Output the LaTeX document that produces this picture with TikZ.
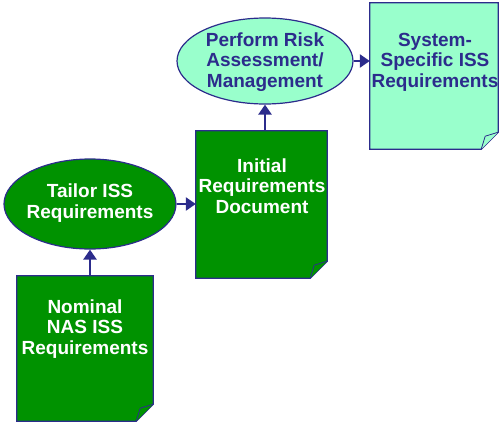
\documentclass[tikz,border=0pt]{standalone}
\usepackage{fontspec}
\setmainfont{Liberation Sans}
\usetikzlibrary{arrows.meta,shapes.geometric}
\definecolor{dgreen}{RGB}{0,146,0}
\definecolor{lgreen}{RGB}{153,255,204}
\definecolor{navy}{RGB}{44,44,140}
\tikzset{
  lbl/.style={font=\bfseries\fontsize{19}{20.5}\selectfont, align=center, inner sep=0pt},
  ell/.style={ellipse, draw=navy, line width=1.2pt, inner sep=0pt},
  docframe/.style={rectangle, draw=none, inner sep=0pt},
  flow/.style={draw=navy, line width=2.6pt, -{Triangle[length=10pt,width=13pt]}},
}
\newcommand{\docpage}[2]{%
  \filldraw[fill=#2, draw=navy, line width=1.2pt]
    (#1.north west) -- (#1.north east) -- ([yshift=17pt]#1.south east)
    -- ([xshift=-17pt]#1.south east) -- (#1.south west) -- cycle;
  \filldraw[fill=#2, draw=navy, line width=0.8pt]
    ([yshift=17pt]#1.south east) -- ([xshift=-13pt,yshift=13pt]#1.south east)
    -- ([xshift=-17pt]#1.south east);
}
\begin{document}
\begin{tikzpicture}[x=1pt,y=-1pt]
\useasboundingbox (0,0) rectangle (500,424);
% documents
\node[docframe, minimum width=136pt, minimum height=145pt] (nom) at (85,348.5) {};
\node[docframe, minimum width=131pt, minimum height=147pt] (init) at (261.5,204.5) {};
\node[docframe, minimum width=128pt, minimum height=146pt] (sys) at (434,76) {};
\docpage{nom}{dgreen}
\docpage{init}{dgreen}
\docpage{sys}{lgreen}
\node[lbl, text=white] (nomtext) at (85,329) {Nominal\\NAS ISS\\Requirements};
\node[lbl, text=white] (inittext) at (262,186) {Initial\\Requirements\\Document};
\node[lbl, text=navy] (systext) at (435,62) {System-\\Specific ISS\\Requirements};
% ellipses
\node[ell, fill=dgreen, minimum width=172pt, minimum height=90pt] (tailor) at (90,204) {};
\node[lbl, text=white] (tailortext) at (90,203) {Tailor ISS\\Requirements};
\node[ell, fill=lgreen, minimum width=176pt, minimum height=86pt] (perform) at (265,61) {};
\node[lbl, text=navy] (performtext) at (265,62) {Perform Risk\\Assessment/\\Management};
% connectors
\draw[flow] (tailor.south |- nom.north) -- (tailor.south);
\draw[flow] (tailor.east) -- (tailor.east -| init.west);
\draw[flow] (perform.south |- init.north) -- (perform.south);
\draw[flow] (perform.east) -- (perform.east -| sys.west);
\end{tikzpicture}
\end{document}
